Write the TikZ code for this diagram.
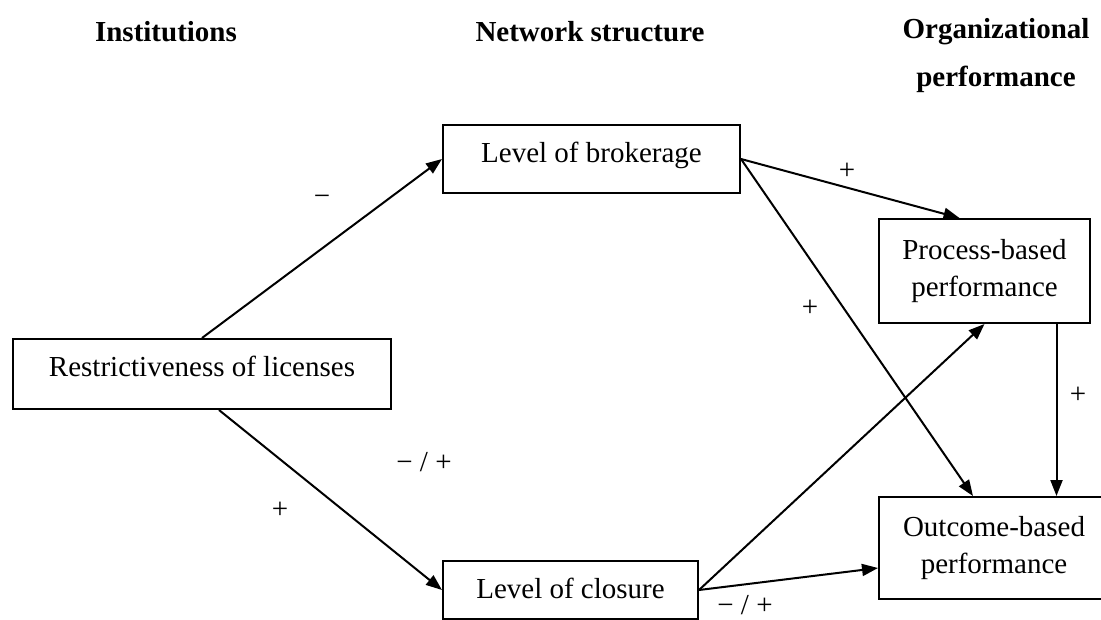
\documentclass[tikz,border=0pt]{standalone}
\usepackage{fontspec}
\setmainfont{Liberation Serif}
\usepackage{tikz}
\usetikzlibrary{arrows.meta,positioning}

\begin{document}
\begin{tikzpicture}[x=1pt,y=-1pt,
    box/.style={draw, line width=2pt, inner sep=0pt, text height=37pt, font=\fontsize{29}{37}\selectfont},
    twobox/.style={draw, line width=2pt, inner sep=0pt, align=center, font=\fontsize{29}{37}\selectfont},
    head/.style={font=\fontsize{29}{48}\selectfont\bfseries, align=center},
    sign/.style={font=\fontsize{29}{37}\selectfont},
    link/.style={line width=2pt, -{Triangle[length=16pt,width=12pt]}}]
    \clip (0,0) rectangle (1101,619);
    % column headings
    \node[head] (hinst) at (166,32) {Institutions};
    \node[head] (hnet) at (590,32) {Network structure};
    \node[head] (horg) at (996,56) {Organizational\\performance};
    % boxes
    \node[box, anchor=north west, minimum width=378pt, text depth=33pt] (restr) at (12,338) {Restrictiveness of licenses};
    \node[box, anchor=north west, minimum width=297pt, text depth=31pt] (brok) at (442,124) {Level of brokerage};
    \node[box, anchor=north west, minimum width=255pt, text depth=21pt] (clos) at (442,560) {Level of closure};
    \node[twobox, anchor=north west, minimum width=211pt, minimum height=104pt] (proc) at (878,218) {Process-based\\performance};
    \node[twobox, anchor=north west, minimum width=230pt, minimum height=102pt] (outc) at (878,496) {Outcome-based\\performance};
    % arrows
    \draw[link] (restr.north) -- (brok.west);
    \draw[link] ([xshift=17pt]restr.south) -- (clos.west);
    \draw[link] (brok.east) -- ([xshift=-25pt]proc.north);
    \draw[link] (brok.east) -- ([xshift=-21pt]outc.north);
    \draw[link] (clos.east) -- (proc.south);
    \draw[link] (clos.east) -- ([yshift=-20pt]outc.west);
    \draw[link] ([xshift=72pt]proc.south) -- ([xshift=72pt]proc.south |- outc.north);
    % signs
    \node[sign] (s1) at (322,200) {−};
    \node[sign] (s2) at (280,510) {+};
    \node[sign] (s3) at (847,171) {+};
    \node[sign] (s4) at (810,308) {+};
    \node[sign] (s5) at (424,462) {− / +};
    \node[sign] (s6) at (745,605) {− / +};
    \node[sign] (s7) at (1078,395) {+};
\end{tikzpicture}
\end{document}
